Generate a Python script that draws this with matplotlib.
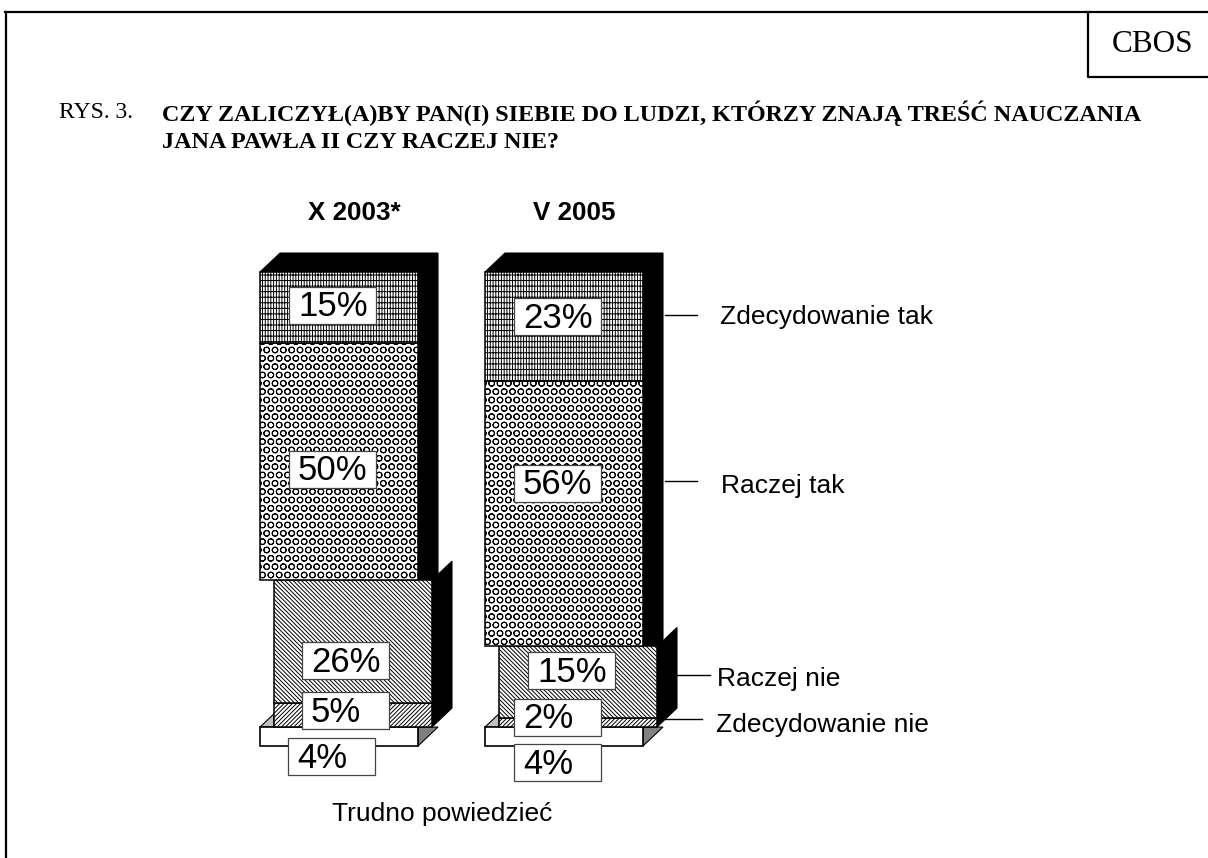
import matplotlib
matplotlib.use('Agg')
import matplotlib.pyplot as plt
from matplotlib.patches import Polygon, Rectangle

# dane (od dolu slupka do gory)
waves = ['X 2003*', 'V 2005']
trudno = [4, 4]
zdec_nie = [5, 2]
raczej_nie = [26, 15]
raczej_tak = [50, 56]
zdec_tak = [15, 23]
answers = ['Zdecydowanie tak', 'Raczej tak', 'Raczej nie', 'Zdecydowanie nie']
bottom_label = 'Trudno powiedzieć'

# uklad w pikselach
W, H = 1208, 858
bar_left = [260, 485]
bar_w = 158
shift = 14   # przesuniecie czesci "nie"
dx, dy = 20, 4
base_px, top_px = 746, 272
px_per = (base_px - top_px) / 100.0

fig = plt.figure(figsize=(W / 100, H / 100), dpi=100)
plt.rcParams['hatch.linewidth'] = 0.7

# os ramki i tekstow - wspolrzedne w pikselach
pax = fig.add_axes([0, 0, 1, 1], zorder=3)
pax.set_xlim(0, W)
pax.set_ylim(H, 0)
pax.axis('off')

# os slupkow - y w procentach
ax = fig.add_axes([0, 0, 1, 1], zorder=1)
ax.set_xlim(0, W)
ax.set_ylim(-(H - base_px) / px_per, base_px / px_per)
ax.axis('off')


def seg(x, bottom, val, hatch):
    ax.bar(x, val, width=bar_w, bottom=bottom, align='edge', facecolor='white',
           edgecolor='black', linewidth=1.1, hatch=hatch, zorder=5)


for i in range(2):
    x = bar_left[i]
    b0 = trudno[i]
    b1 = b0 + zdec_nie[i]
    b2 = b1 + raczej_nie[i]
    b3 = b2 + raczej_tak[i]
    b4 = b3 + zdec_tak[i]
    xs = x + shift

    # cien dolnej czesci
    ax.add_patch(Polygon([(xs + bar_w, b2), (xs + bar_w + dx, b2 + dy), (xs + bar_w + dx, b0 + dy),
                          (xs + bar_w, b0)], fc='black', ec='black', lw=0.8, zorder=2))
    # cien gornej czesci
    ax.add_patch(Polygon([(x, b4), (x + dx, b4 + dy), (x + bar_w + dx, b4 + dy), (x + bar_w + dx, b2),
                          (x + bar_w, b2), (x + bar_w, b4)], fc='black', ec='black', lw=0.8, zorder=3))
    # podstawa
    ax.add_patch(Polygon([(x, b0), (x + shift, b0 + dy * shift / dx), (x + shift, b0)],
                         fc='#c0c0c0', ec='black', lw=0.8, zorder=2))
    ax.add_patch(Polygon([(x + bar_w, 0), (x + bar_w + dx, dy), (x + bar_w + dx, b0), (x + bar_w, b0)],
                         fc='#808080', ec='black', lw=0.8, zorder=4))
    ax.bar(x, trudno[i], width=bar_w, align='edge', facecolor='white', edgecolor='black',
           linewidth=1.2, zorder=4)

    seg(xs, b0, zdec_nie[i], '/' * 8)
    seg(xs, b1, raczej_nie[i], '\\' * 8)
    seg(x, b2, raczej_tak[i], 'OO')
    seg(x, b3, zdec_tak[i], '+++|||')

# etykiety wartosci: lewa krawedz i gora ramki
label_pos = {
    0: [(289, 287, zdec_tak), (289, 451, raczej_tak), (302, 642, raczej_nie),
        (302, 692, zdec_nie), (288, 738, trudno)],
    1: [(514, 298, zdec_tak), (514, 465, raczej_tak), (528, 652, raczej_nie),
        (514, 699, zdec_nie), (514, 744, trudno)],
}
for i in label_pos:
    for lx, ly, serie in label_pos[i]:
        pax.add_patch(Rectangle((lx, ly), 87, 37, fc='white', ec='#444444', lw=0.9, zorder=6))
        pax.text(lx + 9, ly + 20, '%d%%' % serie[i], ha='left', va='center',
                 family='Liberation Sans', fontsize=25, zorder=7)

# naglowki slupkow
pax.text(354.5, 213, waves[0], ha='center', va='center', family='Liberation Sans',
         fontsize=18.7, fontweight='bold')
pax.text(574, 213, waves[1], ha='center', va='center', family='Liberation Sans',
         fontsize=18.7, fontweight='bold')

# opisy po prawej z liniami
ans_x = [720, 721, 717, 716]
ans_y = [317, 486, 679, 725]
lead = [(665, 697, 315), (665, 697, 481), (677, 710, 675), (665, 702, 719)]
for k in range(4):
    pax.text(ans_x[k], ans_y[k], answers[k], ha='left', va='center',
             family='Liberation Sans', fontsize=19)
    pax.plot(lead[k][:2], [lead[k][2], lead[k][2]], color='black', lw=1)

pax.text(442, 814, bottom_label, ha='center', va='center', family='Liberation Sans', fontsize=19)

# ramka
pax.plot([5.5, 5.5], [H, 12], color='black', lw=1.6)
pax.plot([5, W], [12, 12], color='black', lw=1.6)
pax.plot([1088, 1088, W], [12, 77, 77], color='black', lw=1.6)
pax.text(1153, 44, 'CBOS', ha='center', va='center', family='Liberation Serif', fontsize=22.5)

pax.text(59, 113, 'RYS. 3.', ha='left', va='center', family='Liberation Serif', fontsize=17)
pax.text(162, 113, 'CZY ZALICZYŁ(A)BY PAN(I) SIEBIE DO LUDZI, KTÓRZY ZNAJĄ TREŚĆ NAUCZANIA',
         ha='left', va='center', family='Liberation Serif', fontsize=17.4, fontweight='bold')
pax.text(162, 143, 'JANA PAWŁA II CZY RACZEJ NIE?', ha='left', va='center',
         family='Liberation Serif', fontsize=17.4, fontweight='bold')

fig.savefig('out.png', dpi=100, facecolor='white')
